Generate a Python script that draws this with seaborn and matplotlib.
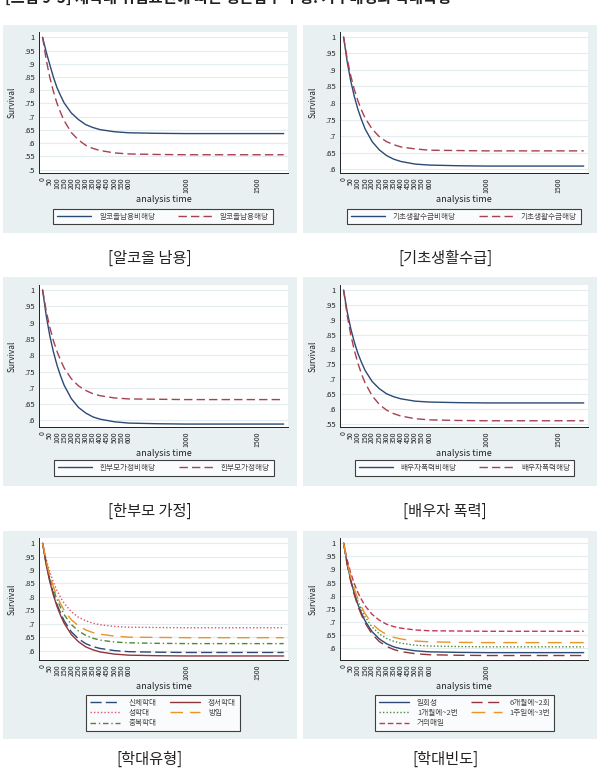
import matplotlib
matplotlib.use('Agg')
import numpy as np
import pandas as pd
import matplotlib.pyplot as plt
import seaborn as sns
from matplotlib.lines import Line2D
from matplotlib.patches import Rectangle

sns.set_style('white')
plt.rcParams['font.family'] = ['Noto Sans CJK KR', 'DejaVu Sans']
plt.rcParams['axes.unicode_minus'] = False

# 분석 시간(일)
t = [0, 25, 50, 75, 100, 125, 150, 200, 250, 300, 350, 400, 500, 600, 800, 1000, 1300, 1680]

# 알코올 남용
alc_no = [1.0, 0.945, 0.897, 0.850, 0.810, 0.780, 0.752, 0.714, 0.689, 0.670, 0.659, 0.651, 0.643, 0.639, 0.637, 0.636, 0.636, 0.636]
alc_yes = [1.0, 0.916, 0.849, 0.796, 0.751, 0.716, 0.685, 0.640, 0.612, 0.592, 0.580, 0.572, 0.563, 0.559, 0.557, 0.556, 0.556, 0.556]
# 기초생활수급
bls_no = [1.0, 0.926, 0.867, 0.820, 0.781, 0.750, 0.722, 0.683, 0.658, 0.641, 0.630, 0.623, 0.615, 0.612, 0.610, 0.609, 0.609, 0.609]
bls_yes = [1.0, 0.934, 0.883, 0.841, 0.807, 0.779, 0.755, 0.721, 0.698, 0.683, 0.674, 0.667, 0.661, 0.657, 0.656, 0.655, 0.655, 0.655]
# 한부모 가정
sp_no = [1.0, 0.922, 0.860, 0.811, 0.770, 0.737, 0.708, 0.667, 0.640, 0.623, 0.611, 0.604, 0.596, 0.592, 0.590, 0.589, 0.589, 0.589]
sp_yes = [1.0, 0.936, 0.886, 0.845, 0.812, 0.785, 0.761, 0.728, 0.706, 0.692, 0.682, 0.676, 0.669, 0.666, 0.665, 0.664, 0.664, 0.664]
# 배우자 폭력
dv_no = [1.0, 0.928, 0.871, 0.825, 0.787, 0.757, 0.730, 0.692, 0.668, 0.651, 0.641, 0.634, 0.626, 0.623, 0.621, 0.620, 0.620, 0.620]
dv_yes = [1.0, 0.916, 0.850, 0.798, 0.754, 0.718, 0.688, 0.644, 0.615, 0.596, 0.584, 0.576, 0.567, 0.563, 0.561, 0.560, 0.560, 0.560]
# 학대유형
physical = [1.0, 0.923, 0.862, 0.813, 0.772, 0.740, 0.711, 0.670, 0.644, 0.626, 0.615, 0.608, 0.600, 0.596, 0.594, 0.593, 0.593, 0.593]
emotional = [1.0, 0.920, 0.857, 0.807, 0.765, 0.731, 0.702, 0.660, 0.633, 0.614, 0.603, 0.595, 0.587, 0.583, 0.581, 0.580, 0.580, 0.580]
sexual = [1.0, 0.940, 0.893, 0.855, 0.824, 0.798, 0.776, 0.745, 0.724, 0.711, 0.702, 0.696, 0.690, 0.687, 0.686, 0.685, 0.685, 0.685]
neglect = [1.0, 0.933, 0.880, 0.838, 0.803, 0.775, 0.750, 0.715, 0.692, 0.677, 0.667, 0.661, 0.654, 0.650, 0.649, 0.648, 0.648, 0.648]
multiple = [1.0, 0.929, 0.873, 0.828, 0.791, 0.761, 0.734, 0.697, 0.673, 0.657, 0.646, 0.639, 0.632, 0.629, 0.627, 0.626, 0.626, 0.626]
# 학대빈도
once = [1.0, 0.921, 0.859, 0.809, 0.767, 0.734, 0.705, 0.663, 0.636, 0.618, 0.606, 0.599, 0.591, 0.587, 0.585, 0.584, 0.584, 0.584]
six_month = [1.0, 0.919, 0.855, 0.804, 0.761, 0.727, 0.697, 0.654, 0.626, 0.608, 0.596, 0.588, 0.580, 0.576, 0.574, 0.573, 0.573, 0.573]
one_month = [1.0, 0.925, 0.866, 0.819, 0.779, 0.748, 0.720, 0.681, 0.655, 0.638, 0.627, 0.620, 0.612, 0.609, 0.607, 0.606, 0.606, 0.606]
one_week = [1.0, 0.928, 0.871, 0.826, 0.788, 0.758, 0.732, 0.694, 0.669, 0.653, 0.642, 0.636, 0.628, 0.625, 0.623, 0.622, 0.622, 0.622]
daily = [1.0, 0.936, 0.886, 0.846, 0.812, 0.786, 0.762, 0.729, 0.707, 0.692, 0.683, 0.677, 0.670, 0.667, 0.666, 0.665, 0.665, 0.665]

captions = ['[알코올 남용]', '[기초생활수급]', '[한부모 가정]', '[배우자 폭력]', '[학대유형]', '[학대빈도]']
title = '[그림 9-5] 재학대 위험요인에 따른 생존함수 추정: 가구배경과 학대특성'

NAVY, MAROON = '#2b4a74', '#a8404f'
SOLID = ''

panels = [
    dict(series=[('알코올남용비해당', alc_no, NAVY, SOLID), ('알코올남용해당', alc_yes, MAROON, (6, 3))],
         yt=np.arange(0.5, 1.001, 0.05), ylim=(0.487, 1.02), xt_hi=True,
         box=(39, 32, 288, 173), bg=(3, 25, 297, 233), leg=(163, 216.5), cap=(150, 258)),
    dict(series=[('기초생활수급비해당', bls_no, NAVY, SOLID), ('기초생활수급해당', bls_yes, MAROON, (6, 3))],
         yt=np.arange(0.6, 1.001, 0.05), ylim=(0.588, 1.015), xt_hi=True,
         box=(340, 32, 588, 173), bg=(303, 25, 597, 233), leg=(464, 216.5), cap=(445, 258)),
    dict(series=[('한부모가정비해당', sp_no, NAVY, SOLID), ('한부모가정해당', sp_yes, MAROON, (6, 3))],
         yt=np.arange(0.6, 1.001, 0.05), ylim=(0.58, 1.015), xt_hi=True,
         box=(39, 285, 288, 427), bg=(3, 277, 297, 486), leg=(164, 468), cap=(150, 511)),
    dict(series=[('배우자폭력비해당', dv_no, NAVY, SOLID), ('배우자폭력해당', dv_yes, MAROON, (6, 3))],
         yt=np.arange(0.55, 1.001, 0.05), ylim=(0.539, 1.017), xt_hi=True,
         box=(340, 285, 588, 427), bg=(303, 277, 597, 486), leg=(464.5, 468), cap=(445, 511)),
    dict(series=[('신체학대', physical, '#2b4a74', (8, 3)), ('성학대', sexual, '#e0506a', (1, 1.5)),
                 ('중복학대', multiple, '#4c8a3a', (4, 2, 1, 2)),
                 ('정서학대', emotional, '#90353b', SOLID), ('방임', neglect, '#e8952a', (9, 5))],
         yt=np.arange(0.6, 1.001, 0.05), ylim=(0.565, 1.019), xt_hi=True,
         box=(39, 538, 288, 660), bg=(3, 531, 297, 739), leg=(163, 713), cap=(150, 759)),
    dict(series=[('일회성', once, '#2b4a74', SOLID), ('1개월에~2번', one_month, '#4c8a3a', (1, 1.5)),
                 ('거의매일', daily, '#c8345a', (4, 2)),
                 ('6개월에~2회', six_month, '#90353b', (8, 4)), ('1주일에~3번', one_week, '#e8952a', (10, 6))],
         yt=np.arange(0.6, 1.001, 0.05), ylim=(0.556, 1.019), xt_hi=False,
         box=(340, 538, 588, 660), bg=(303, 531, 597, 739), leg=(464.5, 713), cap=(445, 759)),
]

W, H = 600, 768
fig = plt.figure(figsize=(W / 100, H / 100), dpi=100)
fig.patch.set_facecolor('white')


def ylab(v):
    s = f'{v:.2f}'.rstrip('0').rstrip('.')
    return s[1:] if s.startswith('0') else s


for p in panels:
    x0, y0, x1, y1 = p['bg']
    fig.add_artist(Rectangle((x0 / W, 1 - y1 / H), (x1 - x0) / W, (y1 - y0) / H,
                             transform=fig.transFigure, facecolor='#e8f0f2', edgecolor='none', zorder=0))
    bx0, by0, bx1, by1 = p['box']
    ax = fig.add_axes([bx0 / W, 1 - by1 / H, (bx1 - bx0) / W, (by1 - by0) / H])
    ax.set_facecolor('white')

    rows = []
    for name, vals, _, _ in p['series']:
        rows.append(pd.DataFrame({'t': t, 's': vals, 'g': name}))
    df = pd.concat(rows, ignore_index=True)
    names = [s[0] for s in p['series']]
    sns.lineplot(data=df, x='t', y='s', hue='g', style='g', hue_order=names, style_order=names,
                 palette={s[0]: s[2] for s in p['series']},
                 dashes={s[0]: s[3] for s in p['series']},
                 linewidth=1.0, legend=False, ax=ax, zorder=3)

    ax.set_xlim(-25, 1710)
    ax.set_ylim(*p['ylim'])
    xt = list(range(0, 601, 50)) + [1000] + ([1500] if p['xt_hi'] else [])
    ax.set_xticks(xt)
    ax.set_xticklabels([str(v) for v in xt], rotation=90, fontsize=5.0)
    ax.set_yticks(p['yt'])
    ax.set_yticklabels([ylab(v) for v in p['yt']], fontsize=5.5)
    ax.tick_params(axis='both', direction='out', length=2, width=0.6, pad=1, colors='#222222')
    ax.grid(axis='y', color='#e4ecef', linewidth=0.8)
    ax.grid(axis='x', visible=False)
    for side in ['top', 'right']:
        ax.spines[side].set_visible(False)
    for side in ['left', 'bottom']:
        ax.spines[side].set_color('#222222')
        ax.spines[side].set_linewidth(0.7)
    ax.set_xlabel('analysis time', fontsize=6.5, labelpad=1.5, color='#222222')
    ax.set_ylabel('Survival', fontsize=6, labelpad=5, color='#222222')

    handles = [Line2D([0], [0], color=s[2], lw=1.0,
                      linestyle='-' if s[3] == SOLID else (0, s[3])) for s in p['series']]
    two = len(names) == 2
    lg = fig.legend(handles, names, loc='center', bbox_to_anchor=(p['leg'][0] / W, 1 - p['leg'][1] / H),
                    ncol=2, fontsize=5.5, frameon=True, fancybox=False,
                    handlelength=4.5 if two else 4.0,
                    columnspacing=3.0 if two else 1.8, handletextpad=1.0,
                    borderpad=0.5, labelspacing=0.3)
    lg.get_frame().set_edgecolor('#111111')
    lg.get_frame().set_linewidth(0.8)
    for txt in lg.get_texts():
        txt.set_color('#444444')

for p, cap in zip(panels, captions):
    fig.text(p['cap'][0] / W, 1 - p['cap'][1] / H, cap, fontsize=11, ha='center', va='center', color='#222222')

# 원본 그림에서 제목 윗부분이 잘려 있음
fig.text(5 / W, 1 - 2.5 / H, title, fontsize=11, fontweight='bold', ha='left', va='baseline', color='#222222')

fig.savefig('out.png', dpi=100)
